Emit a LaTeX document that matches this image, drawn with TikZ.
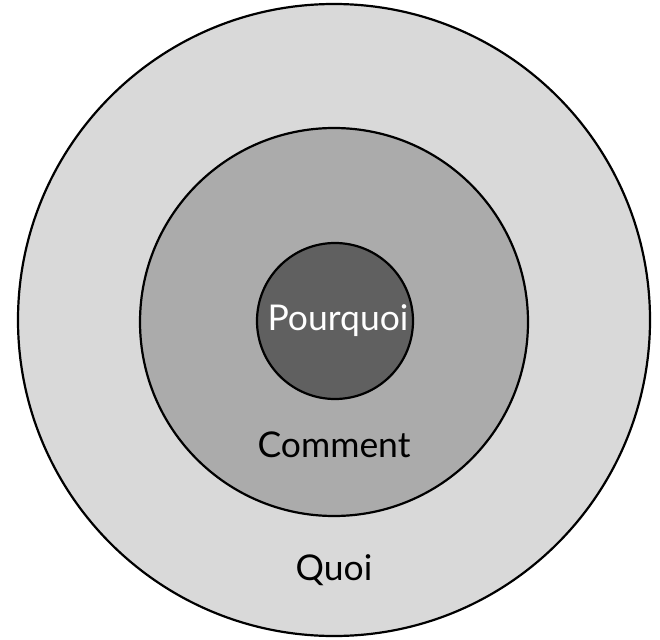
\documentclass[tikz,border=0pt]{standalone}
\usepackage{fontspec}
\setmainfont{Lato}
\definecolor{ringouter}{HTML}{D9D9D9}
\definecolor{ringmid}{HTML}{ABABAB}
\definecolor{ringinner}{HTML}{606060}
\begin{document}
\begin{tikzpicture}[x=1pt,y=-1pt,
  ring/.style={draw=black,line width=2.2pt,circle,inner sep=0pt},
  lbl/.style={font=\fontsize{35.5}{40}\selectfont,inner sep=0pt}]
\useasboundingbox (0,0) rectangle (660,639);
% concentric circles, outermost first
\node[ring,fill=ringouter,minimum size=632pt] (quoi) at (334,320) {};
\node[ring,fill=ringmid,minimum size=388pt] (comment) at (334,322) {};
\node[ring,fill=ringinner,minimum size=156pt] (pourquoi) at (335,321) {};
% labels
\node[lbl,text=white] (tpourquoi) at (pourquoi.center) [xshift=3pt] {Pourquoi};
\node[lbl] (tcomment) at (334,445) {Comment};
\node[lbl] (tquoi) at (334,570) {Quoi};
\end{tikzpicture}
\end{document}
